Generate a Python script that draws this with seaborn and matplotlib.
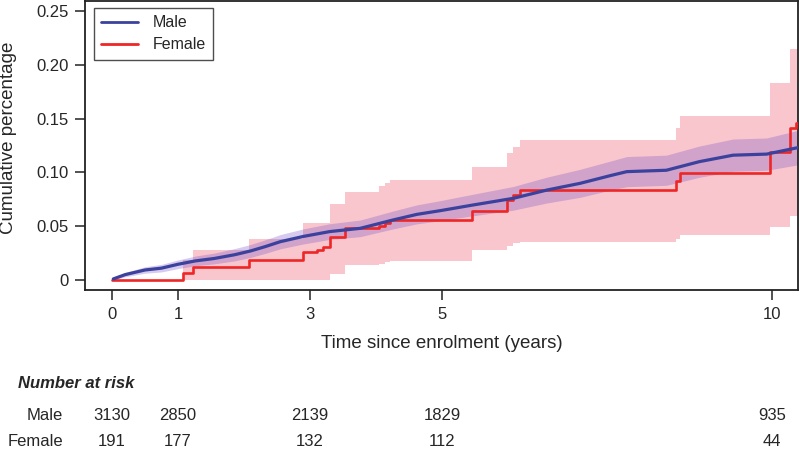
import matplotlib
matplotlib.use('Agg')
import matplotlib.pyplot as plt
import matplotlib.transforms as mtransforms
import pandas as pd
import seaborn as sns

# Male cumulative incidence with confidence band
male_t = [0.02, 0.2, 0.5, 0.75, 1.0, 1.26, 1.55, 1.86, 2.1, 2.32, 2.55, 2.9, 3.3, 3.76,
          4.26, 4.62, 4.97, 5.47, 6.08, 6.59, 7.09, 7.55, 7.8, 8.4, 8.9, 9.41, 9.92, 10.39]
male_v = [0.001, 0.005, 0.0093, 0.011, 0.0146, 0.0177, 0.020, 0.0235, 0.027, 0.031, 0.0356,
          0.0405, 0.045, 0.048, 0.0558, 0.061, 0.0644, 0.0697, 0.0759, 0.0836, 0.0898, 0.097,
          0.1007, 0.102, 0.110, 0.116, 0.117, 0.123]
male_lo = [0.000, 0.003, 0.0063, 0.0075, 0.0106, 0.0132, 0.015, 0.0178, 0.021, 0.0247, 0.029,
           0.0335, 0.0377, 0.0403, 0.0475, 0.0522, 0.0551, 0.0597, 0.0649, 0.0716, 0.0768,
           0.0835, 0.0867, 0.088, 0.0955, 0.101, 0.102, 0.107]
male_hi = [0.002, 0.007, 0.0123, 0.0145, 0.0186, 0.0222, 0.025, 0.0292, 0.033, 0.0373, 0.0422,
           0.0475, 0.0523, 0.0557, 0.0641, 0.0698, 0.0737, 0.0797, 0.0869, 0.0956, 0.1028,
           0.1105, 0.1147, 0.116, 0.1245, 0.131, 0.132, 0.139]

# Female step function with confidence band
female_t = [0, 1.07, 1.23, 2.08, 2.89, 3.10, 3.20, 3.30, 3.53, 4.05, 4.13, 4.21, 5.45, 5.98,
            6.08, 6.18, 8.55, 8.60, 9.97, 10.27, 10.36, 10.39]
female_v = [0, 0.0065, 0.0124, 0.0186, 0.0256, 0.028, 0.031, 0.0403, 0.048, 0.050, 0.053,
            0.0558, 0.0641, 0.0743, 0.079, 0.0836, 0.092, 0.099, 0.1186, 0.141, 0.146, 0.146]
female_lo = [0, 0, 0, 0, 0, 0, 0, 0.006, 0.014, 0.015, 0.017, 0.018, 0.028, 0.032, 0.034,
             0.035, 0.038, 0.042, 0.0495, 0.0595, 0.0595, 0.0595]
female_hi = [0, 0.019, 0.028, 0.038, 0.053, 0.053, 0.053, 0.071, 0.082, 0.087, 0.090, 0.093,
             0.105, 0.118, 0.124, 0.130, 0.141, 0.152, 0.183, 0.215, 0.215, 0.215]

# Number at risk table
risk_times = [0, 1, 3, 5, 10]
male_risk = [3130, 2850, 2139, 1829, 935]
female_risk = [191, 177, 132, 112, 44]

sns.set_style('ticks')
plt.rcParams['font.family'] = ['Liberation Sans', 'DejaVu Sans']

male_col = '#3b429e'
female_col = '#ee2626'

fig, ax = plt.subplots(figsize=(8, 4.51), dpi=100)
fig.subplots_adjust(left=85 / 800, right=798 / 800, bottom=1 - 290 / 451, top=1 - 1 / 451)

# bands
ax.fill_between(female_t, female_lo, female_hi, step='post', color='#f8c6cc', lw=0, zorder=1)
ax.fill_between(male_t, male_lo, male_hi, color='#7850c8', alpha=0.3, lw=0, zorder=2)

male_df = pd.DataFrame({'t': male_t, 'v': male_v})
female_df = pd.DataFrame({'t': female_t, 'v': female_v})
sns.lineplot(data=male_df, x='t', y='v', estimator=None, color=male_col, lw=2.3,
             label='Male', ax=ax, zorder=4)
sns.lineplot(data=female_df, x='t', y='v', estimator=None, color=female_col, lw=1.9,
             drawstyle='steps-post', label='Female', ax=ax, zorder=3)

ax.set_xlim(-0.409, 10.394)
ax.set_ylim(-0.0093, 0.2593)
ax.set_xticks(risk_times)
ax.set_xticklabels([str(t) for t in risk_times])
ax.set_yticks([0, 0.05, 0.10, 0.15, 0.20, 0.25])
ax.set_yticklabels(['0', '0.05', '0.10', '0.15', '0.20', '0.25'])
ax.tick_params(axis='both', labelsize=12, length=7, width=1.1, color='#222222', pad=5)

for s in ax.spines.values():
    s.set_visible(True)
    s.set_linewidth(1.3)
    s.set_color('#222222')

ax.set_xlabel('Time since enrolment (years)', fontsize=13.5, va='center')
ax.xaxis.set_label_coords(0.5, (290 - 343) / 289)
ax.set_ylabel('Cumulative percentage', fontsize=13.5, va='center', ha='center',
              rotation_mode='default')
ax.yaxis.set_label_coords((9 - 85) / 713, (290 - 138) / 289)

leg = ax.legend(loc='upper left', bbox_to_anchor=((94 - 85) / 713, (290 - 8) / 289),
                borderaxespad=0, fontsize=11.5, frameon=True, fancybox=False,
                handlelength=2.3, handletextpad=0.9, labelspacing=0.45, borderpad=0.45)
leg.get_frame().set_edgecolor('#222222')
leg.get_frame().set_linewidth(1.0)
for line in leg.get_lines():
    line.set_linewidth(2.0)

# Number at risk table under the axes
trans = mtransforms.blended_transform_factory(ax.transData, fig.transFigure)
fig.text(18 / 800, 1 - 388 / 451, 'Number at risk', fontsize=12, fontweight='bold',
         style='italic', va='baseline', ha='left')
fig.text(63 / 800, 1 - 420.5 / 451, 'Male', fontsize=12, va='baseline', ha='right')
fig.text(63 / 800, 1 - 446.5 / 451, 'Female', fontsize=12, va='baseline', ha='right')
for t, m, f in zip(risk_times, male_risk, female_risk):
    ax.text(t, 1 - 420.5 / 451, str(m), transform=trans, fontsize=12, ha='center',
            va='baseline', clip_on=False)
    ax.text(t, 1 - 446.5 / 451, str(f), transform=trans, fontsize=12, ha='center',
            va='baseline', clip_on=False)

plt.savefig('out.png', dpi=100)
